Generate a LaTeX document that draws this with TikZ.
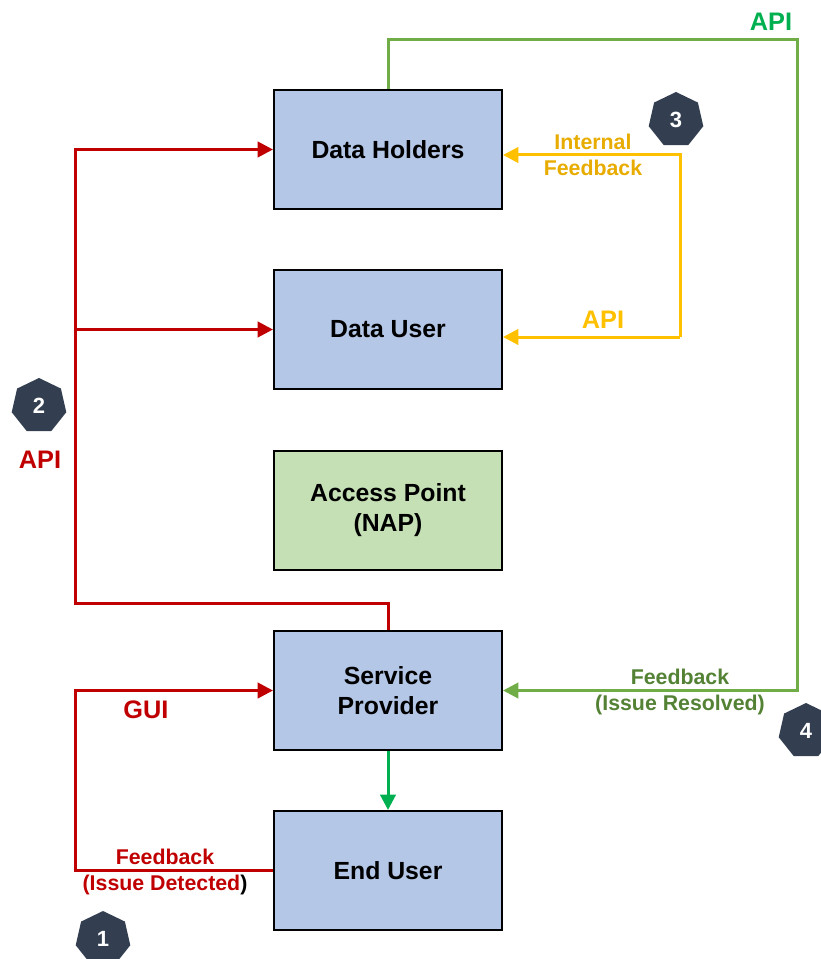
\documentclass[tikz,border=0pt]{standalone}
\usepackage{fontspec}
\setmainfont{Liberation Sans}
\usetikzlibrary{arrows.meta,shapes.geometric}
\definecolor{boxblue}{HTML}{B4C7E7}
\definecolor{boxgreen}{HTML}{C5E0B4}
\definecolor{myred}{HTML}{C00000}
\definecolor{myyellow}{HTML}{FFC000}
\definecolor{myyellowtxt}{HTML}{E8AC00}
\definecolor{mygreen}{HTML}{70AD47}
\definecolor{mygreentxt}{HTML}{548235}
\definecolor{brightgreen}{HTML}{00B050}
\definecolor{badgecol}{HTML}{333F50}
\tikzset{
  box/.style={draw=black, line width=1.5pt, minimum width=171pt, minimum height=89.25pt, inner sep=0pt, align=center, font=\fontsize{18.6}{22.5}\selectfont\bfseries},
  conn/.style={line width=2.25pt, -{Triangle[length=11.5pt,width=11.5pt]}},
  badge/.style={regular polygon, regular polygon sides=7, fill=badgecol, minimum size=42pt, inner sep=0pt, text=white, font=\fontsize{16.5}{16.5}\selectfont\bfseries},
  lbl/.style={inner sep=0pt, align=center, font=\fontsize{16}{19.5}\selectfont\bfseries},
  biglbl/.style={inner sep=0pt, font=\fontsize{19}{19}\selectfont\bfseries}
}
\begin{document}
\begin{tikzpicture}[x=0.75pt,y=-0.75pt]
\useasboundingbox (0,0) rectangle (820,959);
% boxes
\node[box, fill=boxblue] (DH) at (388,149.5) {Data Holders};
\node[box, fill=boxblue] (DU) at (388,329.5) {Data User};
\node[box, fill=boxgreen] (AP) at (388,510.5) {Access Point\\(NAP)};
\node[box, fill=boxblue] (SP) at (388,690.5) {Service\\Provider};
\node[box, fill=boxblue] (EU) at (388,870.5) {End User};
% coordinates
\coordinate (r1) at (75,603);
\coordinate (r2) at (75,149.5);
\coordinate (rb) at (75,329.5);
\coordinate (gu1) at (75,870.5);
\coordinate (gu2) at (75,690.5);
\coordinate (y1) at (680,337);
\coordinate (y2) at (680,155);
\coordinate (g1) at (388,40);
\coordinate (g2) at (797,40);
\coordinate (g3) at (797,690.5);
% red API
\draw[conn, myred] (SP.north) -- (SP.north |- r1) -- (r1) -- (r2) -- (DH.west);
\draw[conn, myred] (rb) -- (DU.west);
% red GUI loop
\draw[conn, myred] (EU.west) -- (gu1) -- (gu2) -- (SP.west);
% yellow
\draw[conn, myyellow] (y1) -- (y2) -- (DH.east |- y2);
\draw[conn, myyellow] (y1) -- (DU.east |- y1);
% green
\draw[conn, mygreen] (DH.north) -- (g1) -- (g2) -- (g3) -- (SP.east);
\draw[conn, brightgreen] (SP.south) -- (EU.north);
% labels
\node[biglbl, text=myred] (lapi) at (40,460) {API};
\node[biglbl, text=myred] (lgui) at (146,710) {GUI};
\node[lbl, text=myred] (lfd) at (165,872) {Feedback\\(Issue Detected\textcolor{black}{)}};
\node[lbl, text=myyellowtxt] (lif) at (593,155) {Internal\\Feedback};
\node[biglbl, text=myyellow] (lyapi) at (603,320) {API};
\node[biglbl, text=brightgreen] (lgapi) at (771,22) {API};
\node[lbl, text=mygreentxt] (lfr) at (680,692) {Feedback\\(Issue Resolved)};
% badges
\node[badge] (b1) at (103,939) {1};
\node[badge] (b2) at (39,406) {2};
\node[badge] (b3) at (676,120) {3};
\node[badge] (b4) at (806,731) {4};
\end{tikzpicture}
\end{document}
